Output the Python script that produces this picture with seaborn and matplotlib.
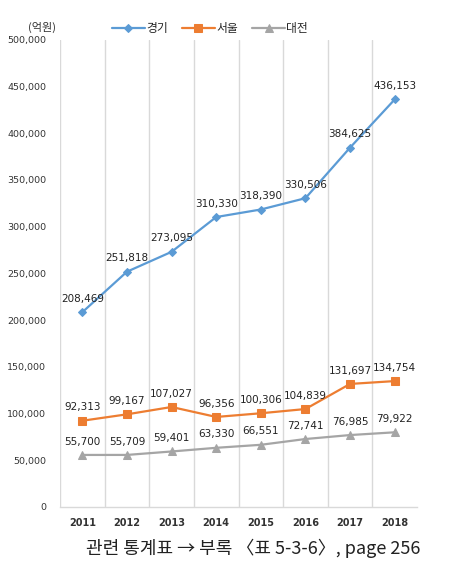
import numpy as np
import pandas as pd
import matplotlib.pyplot as plt
import seaborn as sns

# ----------------------------------------------------------
# DATA
# ----------------------------------------------------------
years = [2011, 2012, 2013, 2014, 2015, 2016, 2017, 2018]
gyeonggi = [208469, 251818, 273095, 310330, 318390, 330506, 384625, 436153]
seoul = [92313, 99167, 107027, 96356, 100306, 104839, 131697, 134754]
daejeon = [55700, 55709, 59401, 63330, 66551, 72741, 76985, 79922]
regions = ["경기", "서울", "대전"]

df = pd.DataFrame({
    "year": years * 3,
    "value": gyeonggi + seoul + daejeon,
    "region": [regions[0]] * 8 + [regions[1]] * 8 + [regions[2]] * 8,
})

colors = {"경기": "#5B9BD5", "서울": "#ED7D31", "대전": "#A5A5A5"}
markers = {"경기": "D", "서울": "s", "대전": "^"}
msizes = {"경기": 4, "서울": 6, "대전": 6}

# ----------------------------------------------------------
# PLOT
# ----------------------------------------------------------
sns.set_style("white")
plt.rcParams["font.family"] = ["Noto Sans CJK KR", "DejaVu Sans"]

fig = plt.figure(figsize=(4.53, 5.69), dpi=100)
ax = fig.add_axes([0.1325, 0.109, 0.788, 0.821])

for r in regions:
    sub = df[df["region"] == r]
    sns.lineplot(
        data=sub, x="year", y="value",
        color=colors[r], marker=markers[r], markersize=msizes[r],
        markeredgecolor=colors[r], linewidth=1.6, label=r, ax=ax
    )
    for x, y in zip(sub["year"], sub["value"]):
        ax.annotate(f"{y:,}", (x, y), xytext=(0, 6), textcoords="offset points",
                    ha="center", va="bottom", fontsize=7.5, color="#222222",
                    family=["DejaVu Sans"])

ax.set_xlim(2010.5, 2018.5)
ax.set_ylim(0, 500000)
ax.set_xticks(years)
ax.set_xticklabels([str(y) for y in years], fontsize=7, color="#333333",
                   family=["DejaVu Sans"], fontweight="semibold")
# gridlines between categories (not at the right edge)
ax.set_xticks(np.arange(2010.5, 2018, 1), minor=True)
ax.set_yticks(range(0, 500001, 50000))
ax.set_yticklabels([f"{v:,}" for v in range(0, 500001, 50000)], fontsize=6.8,
                   color="#333333", family=["DejaVu Sans"])
ax.tick_params(axis="both", which="both", length=0)
ax.tick_params(axis="x", pad=8)
ax.tick_params(axis="y", pad=10)
ax.grid(True, which="minor", axis="x", color="#D9D9D9", linewidth=1)
ax.grid(False, which="major")
ax.set_xlabel("")
ax.set_ylabel("")
for side in ["top", "right", "left"]:
    ax.spines[side].set_visible(False)
ax.spines["bottom"].set_color("#D9D9D9")
ax.spines["bottom"].set_linewidth(1)

ax.legend(loc="lower center", bbox_to_anchor=(0.42, 1.0), ncol=3, frameon=False,
          fontsize=8.5, handlelength=2.8, columnspacing=1.2, handletextpad=0.1,
          borderaxespad=0.0)

fig.text(0.062, 0.945, "(억원)", fontsize=8, color="#333333")
fig.text(0.56, 0.036, "관련 통계표 → 부록 〈표 5-3-6〉, page 256",
         ha="center", va="center", fontsize=13, color="#222222")

fig.savefig("out.png", dpi=100)
